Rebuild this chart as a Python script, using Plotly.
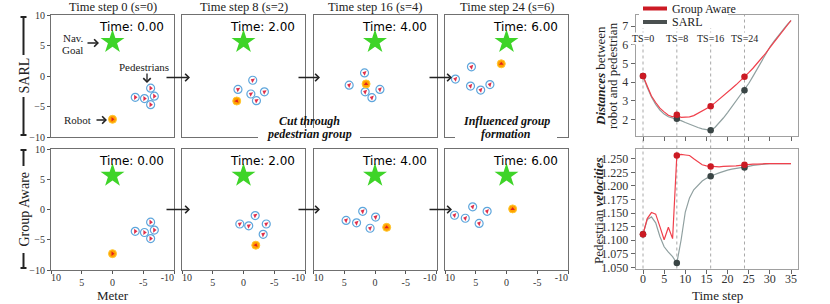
import plotly.graph_objects as go

W, H = 830, 304

# ---------------- data ----------------
step_titles = ["Time step 0 (s=0)", "Time step 8 (s=2)", "Time step 16 (s=4)", "Time step 24 (s=6)"]
time_labels = ["Time: 0.00", "Time: 2.00", "Time: 4.00", "Time: 6.00"]
row_labels = ["SARL", "Group Aware"]
scene_ticks = [10, 5, 0, -5, -10]
scene_inner_text = ["", "5", "0", "-5", ""]
scene_left_tick, scene_left_text = [10], ["10"]
scene_right_tick, scene_right_text = [-10], ["-10"]
goal_x = 0.0
goal_y = 5.6

sarl_ped_x = [[-6.2, -3.7, -5.2, -6.8, -6.2], [-1.5, 0.9, -1.2, -3.4, -2.1],
              [1.7, 4.2, 1.6, -0.8, 0.5], [8.3, 5.7, 5.85, 4.2, 2.7]]
sarl_ped_y = [[-2.0, -3.5, -3.7, -3.3, -4.7], [-0.7, -2.2, -2.95, -2.6, -4.05],
              [0.5, -1.5, -2.6, -2.2, -3.55], [-0.5, 1.5, -1.65, -2.3, -1.4]]
sarl_robot_x = [0.0, 1.1, 1.45, 0.85]
sarl_robot_y = [-7.1, -4.1, -1.3, 2.0]

ga_ped_x = [[-6.2, -3.7, -5.2, -6.8, -6.2], [-1.9, 0.6, -0.85, -3.7, -3.2],
            [2.0, 4.7, 3.0, -0.1, 0.8], [8.45, 5.5, 6.7, 4.45, 3.15]]
ga_ped_y = [[-2.1, -3.6, -3.8, -3.4, -4.8], [-1.0, -2.4, -2.7, -2.4, -4.1],
            [-0.3, -1.8, -2.2, -1.25, -3.1], [-0.95, 0.45, -1.45, -2.3, -0.3]]
ga_robot_x = [0.0, -2.0, -1.9, -1.0]
ga_robot_y = [-7.3, -5.9, -2.95, 0.1]

ped_heading = [0, 210, 200, 195]
robot_heading = [0, 290, 270, 270]

timesteps = list(range(36))
dist_ga = [4.32, 3.75, 3.25, 2.9, 2.6, 2.4, 2.22, 2.13, 2.25, 2.1, 2.1, 2.13, 2.2, 2.33, 2.46, 2.58,
           2.7, 2.88, 3.06, 3.25, 3.45, 3.65, 3.85, 4.05, 4.28, 4.5, 4.74, 4.99, 5.26, 5.54, 5.84,
           6.14, 6.44, 6.74, 7.03, 7.3]
dist_sarl = [4.32, 3.7, 3.2, 2.8, 2.5, 2.28, 2.14, 2.07, 2.03, 1.93, 1.83, 1.73, 1.64, 1.56, 1.49, 1.44,
             1.41, 1.56, 1.8, 2.07, 2.36, 2.66, 2.96, 3.26, 3.56, 3.92, 4.3, 4.7, 5.1, 5.5, 5.88,
             6.2, 6.5, 6.78, 7.05, 7.3]
vel_ga = [1.111, 1.140, 1.151, 1.148, 1.125, 1.101, 1.124, 1.103, 1.256, 1.258, 1.257, 1.256, 1.250,
          1.244, 1.239, 1.237, 1.236, 1.236, 1.235, 1.236, 1.236, 1.237, 1.237, 1.238, 1.239, 1.239,
          1.240, 1.240, 1.241, 1.241, 1.241, 1.241, 1.241, 1.241, 1.241, 1.241]
vel_sarl = [1.111, 1.138, 1.143, 1.132, 1.107, 1.088, 1.078, 1.070, 1.058, 1.100, 1.152, 1.178, 1.193,
            1.202, 1.209, 1.214, 1.218, 1.221, 1.224, 1.227, 1.229, 1.231, 1.232, 1.233, 1.234, 1.236,
            1.238, 1.239, 1.240, 1.240, 1.241, 1.241, 1.241, 1.241, 1.241, 1.241]
ts_marks = [0, 8, 16, 24]
ts_labels = ["TS=0", "TS=8", "TS=16", "TS=24"]
dist_ticks = [2, 3, 4, 5, 6, 7]
vel_ticks = [1.050, 1.075, 1.100, 1.125, 1.150, 1.175, 1.200, 1.225, 1.250]
step_ticks = [0, 5, 10, 15, 20, 25, 30, 35]
legend_names = ["Group Aware", "SARL"]

# ---------------- style ----------------
SERIF = "Liberation Serif"
SANS = "DejaVu Sans"
RED_LINE, RED_MK = "#f0404c", "#cc1a24"
GRAY_LINE, GRAY_MK = "#90a0a0", "#3a4545"
LEG_GRAY = "#4a5050"
TICKFONT_S = dict(family=SERIF, size=10, color="#333")


def px(x):
    return x / W


def py(y):
    return 1 - y / H


cols = [(51, 174), (182, 305), (313.5, 436.5), (445, 568)]
rows = [(15, 137), (149, 270)]

fig = go.Figure()
layout = dict(width=W, height=H, autosize=False,
              margin=dict(l=0, r=0, t=0, b=0, pad=0, autoexpand=False),
              paper_bgcolor="white", plot_bgcolor="white", showlegend=False,
              font=dict(family=SERIF, size=11, color="#222"))
annotations = []
shapes = []

scene_data = [(sarl_ped_x, sarl_ped_y, sarl_robot_x, sarl_robot_y),
              (ga_ped_x, ga_ped_y, ga_robot_x, ga_robot_y)]

extra_axis = 11
for r in range(2):
    pxs, pys, rxs, rys = scene_data[r]
    for c in range(4):
        idx = r * 4 + c + 1
        xn = "xaxis" if idx == 1 else f"xaxis{idx}"
        yn = "yaxis" if idx == 1 else f"yaxis{idx}"
        xr = "x" if idx == 1 else f"x{idx}"
        yr = "y" if idx == 1 else f"y{idx}"
        show_x = (r == 1)
        show_y = (c == 0)
        layout[xn] = dict(domain=[px(cols[c][0]), px(cols[c][1])], anchor=yr, range=[10, -10],
                          showgrid=False, zeroline=False, showline=True, mirror=True,
                          linecolor="#707070", linewidth=1, automargin=False,
                          tickvals=scene_ticks, ticktext=scene_inner_text,
                          ticks="outside" if show_x else "",
                          ticklen=3, tickcolor="#555", showticklabels=show_x,
                          tickfont=TICKFONT_S, fixedrange=True)
        layout[yn] = dict(domain=[py(rows[r][1]), py(rows[r][0])], anchor=xr, range=[-10, 10],
                          showgrid=False, zeroline=False, showline=True, mirror=True,
                          linecolor="#707070", linewidth=1, automargin=False,
                          tickvals=scene_ticks, ticks="outside" if show_y else "",
                          ticklen=3, tickcolor="#555", showticklabels=show_y,
                          tickfont=TICKFONT_S, fixedrange=True)
        if show_x:
            # edge tick labels, placed inward of their ticks like the reference
            for tv, tt, pos in [(scene_left_tick, scene_left_text, "outside right"),
                                (scene_right_tick, scene_right_text, "outside left")]:
                an = f"xaxis{extra_axis}"
                layout[an] = dict(overlaying=xr, anchor=yr, range=[10, -10], showgrid=False,
                                  zeroline=False, showline=False, ticks="", tickvals=tv, ticktext=tt,
                                  ticklabelposition=pos, tickfont=TICKFONT_S, automargin=False,
                                  fixedrange=True)
                fig.add_trace(go.Scatter(x=[], y=[], xaxis=f"x{extra_axis}", yaxis=yr, mode="markers",
                                         hoverinfo="skip"))
                extra_axis += 1
        # goal
        fig.add_trace(go.Scatter(x=[goal_x], y=[goal_y], xaxis=xr, yaxis=yr, mode="markers",
                                 marker=dict(symbol="star", size=18, color="#3ed428",
                                             line=dict(width=0)), hoverinfo="skip"))
        # pedestrians
        fig.add_trace(go.Scatter(x=pxs[c], y=pys[c], xaxis=xr, yaxis=yr, mode="markers",
                                 marker=dict(symbol="circle", size=8, color="rgba(255,255,255,0.9)",
                                             line=dict(color="#5ea6dc", width=1.2)), hoverinfo="skip"))
        fig.add_trace(go.Scatter(x=pxs[c], y=pys[c], xaxis=xr, yaxis=yr, mode="markers",
                                 marker=dict(symbol="triangle-right", size=4.5, color="#e0304a",
                                             angle=ped_heading[c], line=dict(width=0)), hoverinfo="skip"))
        # robot
        fig.add_trace(go.Scatter(x=[rxs[c]], y=[rys[c]], xaxis=xr, yaxis=yr, mode="markers",
                                 marker=dict(symbol="circle", size=8, color="#ffa000",
                                             line=dict(color="#ffc830", width=1)), hoverinfo="skip"))
        fig.add_trace(go.Scatter(x=[rxs[c]], y=[rys[c]], xaxis=xr, yaxis=yr, mode="markers",
                                 marker=dict(symbol="triangle-right", size=4, color="#e02020",
                                             angle=robot_heading[c], line=dict(width=0)), hoverinfo="skip"))
        annotations.append(dict(xref=xr, yref=yr, x=-8.7, y=8.0, text=time_labels[c],
                                xanchor="right", yanchor="middle", showarrow=False,
                                font=dict(family=SANS, size=12, color="black")))
        if r == 0:
            annotations.append(dict(xref="paper", yref="paper", x=px((cols[c][0] + cols[c][1]) / 2),
                                    y=py(7), text=step_titles[c], showarrow=False,
                                    xanchor="center", yanchor="middle",
                                    font=dict(family=SERIF, size=12.5, color="#222")))

# ---- right charts ----
XR = [-1.75, 36.75]
common = dict(showgrid=False, zeroline=False, showline=True, mirror=True, automargin=False,
              linecolor="#a0a0a0", linewidth=1, fixedrange=True, ticks="outside", ticklen=4,
              tickcolor="#666", tickfont=dict(family=SERIF, size=12, color="#333"))
layout["xaxis9"] = dict(domain=[px(635.6), px(798.4)], anchor="y9", range=XR, tickvals=step_ticks,
                        showticklabels=False, **common)
layout["yaxis9"] = dict(domain=[py(136), py(15)], anchor="x9", range=[1.105, 7.595],
                        tickvals=dist_ticks, **common)
layout["xaxis10"] = dict(domain=[px(635.6), px(798.4)], anchor="y10", range=XR, tickvals=step_ticks,
                         ticklabelstandoff=-5, **common)
layout["yaxis10"] = dict(domain=[py(268.5), py(149)], anchor="x10", range=[1.048, 1.268],
                         tickvals=vel_ticks, tickformat=".3f", **common)

for ts in ts_marks:
    shapes.append(dict(type="line", xref="x9", yref="paper", x0=ts, x1=ts, y0=py(268.5), y1=py(15),
                       line=dict(color="#a8a8a8", width=1, dash="dot"), layer="below"))

for (xa, ya, s_ga, s_sarl) in [("x9", "y9", dist_ga, dist_sarl), ("x10", "y10", vel_ga, vel_sarl)]:
    fig.add_trace(go.Scatter(x=timesteps, y=s_sarl, xaxis=xa, yaxis=ya, mode="lines",
                             line=dict(color=GRAY_LINE, width=1.2), hoverinfo="skip"))
    fig.add_trace(go.Scatter(x=timesteps, y=s_ga, xaxis=xa, yaxis=ya, mode="lines",
                             line=dict(color=RED_LINE, width=1.2), hoverinfo="skip"))
    fig.add_trace(go.Scatter(x=ts_marks, y=[s_sarl[t] for t in ts_marks], xaxis=xa, yaxis=ya,
                             mode="markers", marker=dict(color=GRAY_MK, size=6.5), hoverinfo="skip"))
    fig.add_trace(go.Scatter(x=ts_marks, y=[s_ga[t] for t in ts_marks], xaxis=xa, yaxis=ya,
                             mode="markers", marker=dict(color=RED_MK, size=6.5), hoverinfo="skip"))

for ts, lab in zip(ts_marks, ts_labels):
    annotations.append(dict(xref="x9", yref="y9", x=ts, y=6.32, text=lab, showarrow=False,
                            xanchor="center", yanchor="middle", bgcolor="white", borderpad=0,
                            font=dict(family=SERIF, size=10, color="#222")))

# legend (drawn manually)
shapes.append(dict(type="rect", xref="paper", yref="paper", x0=px(639), x1=px(728), y0=py(28), y1=py(1),
                   fillcolor="white", line=dict(width=0), layer="above"))
for i, (name, colr) in enumerate(zip(legend_names, [RED_MK, LEG_GRAY])):
    yy = 8.5 + 13.5 * i
    shapes.append(dict(type="line", xref="paper", yref="paper", x0=px(643), x1=px(667), y0=py(yy), y1=py(yy),
                       line=dict(color=colr, width=4), layer="above"))
    annotations.append(dict(xref="paper", yref="paper", x=px(670), y=py(yy), text=name, showarrow=False,
                            xanchor="left", yanchor="middle", font=dict(family=SERIF, size=12, color="#222")))

# axis labels of right charts
annotations += [
    dict(xref="paper", yref="paper", x=px(600), y=py(76), text="<b><i>Distances</i></b> between",
         textangle=-90, showarrow=False, xanchor="center", yanchor="middle",
         font=dict(family=SERIF, size=13, color="#222")),
    dict(xref="paper", yref="paper", x=px(612), y=py(76), text="robot and pedestrian",
         textangle=-90, showarrow=False, xanchor="center", yanchor="middle",
         font=dict(family=SERIF, size=13, color="#222")),
    dict(xref="paper", yref="paper", x=px(598), y=py(211), text="Pedestrian <b><i>velocities</i></b>",
         textangle=-90, showarrow=False, xanchor="center", yanchor="middle",
         font=dict(family=SERIF, size=13, color="#222")),
    dict(xref="paper", yref="paper", x=px(717), y=py(295), text="Time step", showarrow=False,
         xanchor="center", yanchor="middle", font=dict(family=SERIF, size=13, color="#222")),
    dict(xref="paper", yref="paper", x=px(112.5), y=py(295), text="Meter", showarrow=False,
         xanchor="center", yanchor="middle", font=dict(family=SERIF, size=13, color="#222")),
]

# row labels with bracket bars
for lab, (y0, y1), (g0, g1) in [(row_labels[0], (17, 135), (55, 97)), (row_labels[1], (150, 268), (166, 253))]:
    annotations.append(dict(xref="paper", yref="paper", x=px(23.5), y=py((y0 + y1) / 2), text=lab,
                            textangle=-90, showarrow=False, xanchor="center", yanchor="middle",
                            font=dict(family=SERIF, size=14, color="#222")))
    for a, b in [(y0, g0), (g1, y1)]:
        shapes.append(dict(type="line", xref="paper", yref="paper", x0=px(23.5), x1=px(23.5),
                           y0=py(a), y1=py(b), line=dict(color="#222", width=2)))
    for yy in (y0, y1):
        shapes.append(dict(type="line", xref="paper", yref="paper", x0=px(20.5), x1=px(26.5),
                           y0=py(yy), y1=py(yy), line=dict(color="#222", width=2)))


def arrow(x0, y0, x1, y1):
    annotations.append(dict(xref="paper", yref="paper", x=px(x1), y=py(y1), ax=x0 - x1, ay=y0 - y1,
                            axref="pixel", ayref="pixel", text="", showarrow=True, arrowhead=4,
                            arrowsize=1.1, arrowwidth=1.3, arrowcolor="#222"))


for yy in (77.5, 209.5):
    arrow(165, yy, 190, yy)
    arrow(297, yy, 320, yy)
    arrow(428, yy, 452, yy)
arrow(86, 43, 99, 43)
arrow(147, 72, 147, 83)
arrow(95, 120, 107, 120)

small = dict(family=SERIF, size=11, color="#222")
annotations += [
    dict(xref="paper", yref="paper", x=px(73), y=py(38), text="Nav.", showarrow=False,
         xanchor="center", yanchor="middle", font=small),
    dict(xref="paper", yref="paper", x=px(72), y=py(50), text="Goal", showarrow=False,
         xanchor="center", yanchor="middle", font=small),
    dict(xref="paper", yref="paper", x=px(144), y=py(67), text="Pedestrians", showarrow=False,
         xanchor="center", yanchor="middle", font=small),
    dict(xref="paper", yref="paper", x=px(93), y=py(120), text="Robot", showarrow=False,
         xanchor="right", yanchor="middle", font=small),
]

# panel captions with white boxes covering bottom borders
for (xa, xb, l1, l2) in [(258, 360, "Cut through", "pedestrian group"),
                         (455, 557, "Influenced group", "formation")]:
    shapes.append(dict(type="rect", xref="paper", yref="paper", x0=px(xa), x1=px(xb), y0=py(142), y1=py(128),
                       fillcolor="white", line=dict(width=0), layer="above"))
    annotations.append(dict(xref="paper", yref="paper", x=px((xa + xb) / 2), y=py(121), text=f"<b><i>{l1}</i></b>",
                            showarrow=False, xanchor="center", yanchor="middle",
                            font=dict(family=SERIF, size=12, color="#111")))
    annotations.append(dict(xref="paper", yref="paper", x=px((xa + xb) / 2), y=py(134.5), text=f"<b><i>{l2}</i></b>",
                            showarrow=False, xanchor="center", yanchor="middle",
                            font=dict(family=SERIF, size=12, color="#111")))

layout["annotations"] = annotations
layout["shapes"] = shapes
fig.update_layout(**layout)
fig.write_html("out.html", config={"displayModeBar": False},
               post_script="document.body.style.margin='0';document.body.style.overflow='hidden';")
